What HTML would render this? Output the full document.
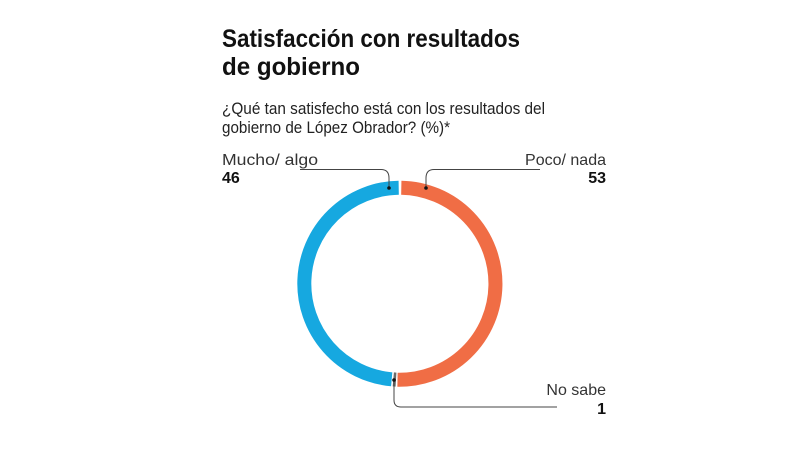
<!DOCTYPE html>
<html><head><meta charset="utf-8"><style>html,body{margin:0;padding:0;background:#fff}svg{display:block}</style></head>
<body>
<svg width="800" height="450" viewBox="0 0 800 450" font-family="Liberation Sans, sans-serif">
<rect width="800" height="450" fill="#fff"/>
<text x="222" y="47" font-size="25" font-weight="bold" fill="#111" textLength="298" lengthAdjust="spacingAndGlyphs">Satisfacción con resultados</text>
<text x="222" y="75" font-size="25" font-weight="bold" fill="#111" textLength="138" lengthAdjust="spacingAndGlyphs">de gobierno</text>
<text x="222" y="114" font-size="16.5" fill="#222" textLength="323" lengthAdjust="spacingAndGlyphs">¿Qué tan satisfecho está con los resultados del</text>
<text x="222" y="133" font-size="16.5" fill="#222" textLength="228" lengthAdjust="spacingAndGlyphs">gobierno de López Obrador? (%)*</text>
<text x="222" y="165" font-size="16" fill="#333" textLength="96" lengthAdjust="spacingAndGlyphs">Mucho/ algo</text>
<text x="222" y="183" font-size="16" font-weight="bold" fill="#111">46</text>
<text x="606" y="165" font-size="16" fill="#333" text-anchor="end">Poco/ nada</text>
<text x="606" y="183" font-size="16" font-weight="bold" fill="#111" text-anchor="end">53</text>
<text x="606" y="395" font-size="16" fill="#333" text-anchor="end">No sabe</text>
<text x="606" y="414" font-size="16" font-weight="bold" fill="#111" text-anchor="end">1</text>
<g fill="none" stroke-width="14">
<path d="M401.3 187.7 A96 96 0 1 1 397.5 379.7" stroke="#f06d45"/>
<path d="M396.0 379.6 A96 96 0 0 1 393.3 379.4" stroke="#6b6b6b"/>
<path d="M391.7 379.3 A96 96 0 0 1 398.7 187.7" stroke="#16a8e0"/>
</g>
<g fill="none" stroke="#444" stroke-width="1">
<path d="M300 169.5 H381 Q389 169.5 389 178 V188"/>
<path d="M540 169.5 H434 Q426 169.5 426 178 V188"/>
<path d="M394 380 V400 Q394 407 401 407 H557"/>
</g>
<circle cx="389" cy="188" r="1.8" fill="#111"/>
<circle cx="426" cy="188" r="1.8" fill="#111"/>
<circle cx="394" cy="380" r="1.8" fill="#111"/>
</svg>
</body></html>
